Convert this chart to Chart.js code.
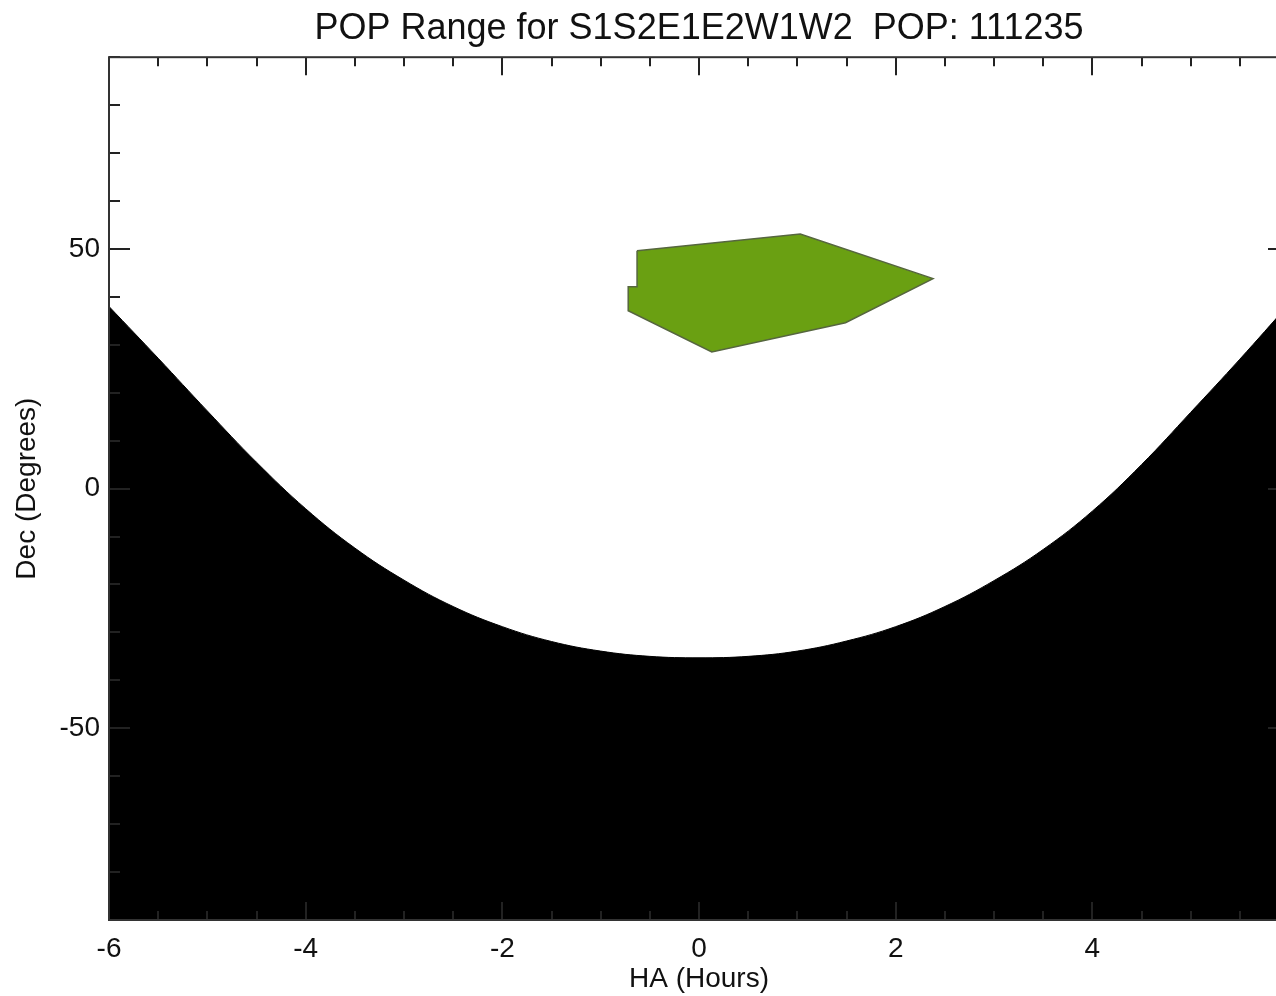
<!DOCTYPE html>
<html>
<head>
<meta charset="utf-8">
<title>POP Range</title>
<script src="https://cdn.jsdelivr.net/npm/chart.js@4.4.1/dist/chart.umd.min.js"></script>
<style>
  html, body { margin: 0; padding: 0; background: #fff; overflow: hidden; }
  #wrap { width: 1276px; height: 996px; overflow: hidden; }
</style>
</head>
<body>
<div id="wrap"><canvas id="chart" width="1290" height="996"></canvas></div>
<script>
// horizon limit (black region is below it)
const horizonHA = [-6, -5.5, -5, -4.5, -4, -3.5, -3, -2.5, -2, -1.5, -1, -0.5, 0,
  0.5, 1, 1.5, 2, 2.5, 3, 3.5, 4, 4.5, 5, 5.5, 6];
const horizonDec = [38, 27.2, 16.2, 5.5, -4.2, -12.4, -19.1, -24.6, -28.8, -31.9, -33.9, -35, -35.3,
  -35, -33.9, -31.8, -28.8, -24.6, -19.2, -12.7, -4.7, 5, 15.9, 27, 38.5];

// POP range polygon
const popHA = [-0.63, 1.03, 2.38, 1.49, 0.13, -0.72, -0.72, -0.63, -0.63];
const popDec = [49.6, 53.1, 43.8, 34.6, 28.5, 37.1, 42.1, 42.1, 49.6];

const xTickValues = [-6, -4, -2, 0, 2, 4];
const yTickValues = [-50, 0, 50];

const FONT = "'Liberation Sans', Arial, Helvetica, sans-serif";
const TEXT = '#111';

const toPoints = (xs, ys) => xs.map((x, i) => ({ x: x, y: ys[i] }));

// IDL-style frame with inward ticks on all four sides
const frameTicks = {
  id: 'frameTicks',
  afterDatasetsDraw(chart) {
    const { ctx, chartArea: a, scales: { x, y } } = chart;
    ctx.save();
    ctx.strokeStyle = '#222';
    ctx.lineWidth = 2;
    ctx.beginPath();
    for (let v = x.min; v <= x.max + 1e-9; v += 0.5) {
      const px = Math.round(x.getPixelForValue(v));
      const len = v % 2 === 0 ? 18 : 9;
      ctx.moveTo(px, a.top); ctx.lineTo(px, a.top + len);
      ctx.moveTo(px, a.bottom); ctx.lineTo(px, a.bottom - len);
    }
    for (let v = y.min; v <= y.max + 1e-9; v += 10) {
      const py = Math.round(y.getPixelForValue(v));
      const len = v % 50 === 0 ? 21 : 11;
      ctx.moveTo(a.left, py); ctx.lineTo(a.left + len, py);
      ctx.moveTo(a.right, py); ctx.lineTo(a.right - len, py);
    }
    ctx.stroke();
    ctx.strokeStyle = '#333';
    ctx.strokeRect(a.left, a.top, a.width, a.height);
    ctx.restore();
  }
};

const ctx = document.getElementById('chart').getContext('2d');
new Chart(ctx, {
  type: 'scatter',
  data: {
    datasets: [
      {
        label: 'Horizon',
        data: toPoints(horizonHA, horizonDec),
        showLine: true,
        borderColor: '#000',
        backgroundColor: '#000',
        borderWidth: 1,
        pointRadius: 0,
        tension: 0.4,
        fill: 'start',
      },
      {
        label: 'POP range',
        data: toPoints(popHA, popDec),
        showLine: true,
        borderColor: '#56663f',
        backgroundColor: '#6aa012',
        borderWidth: 1.5,
        pointRadius: 0,
        tension: 0,
        fill: 'shape',
      },
    ],
  },
  options: {
    responsive: false,
    animation: false,
    layout: { padding: { right: 1 } },
    plugins: {
      legend: { display: false },
      tooltip: { enabled: false },
      title: {
        display: true,
        text: 'POP Range for S1S2E1E2W1W2  POP: 111235',
        fullSize: false,
        color: TEXT,
        font: { family: FONT, size: 36, weight: 'normal', lineHeight: 1.2 },
        padding: { top: 7, bottom: 7 },
      },
    },
    scales: {
      x: {
        type: 'linear',
        min: -6,
        max: 6,
        afterBuildTicks: (s) => { s.ticks = xTickValues.map((v) => ({ value: v })); },
        afterFit: (s) => { s.height = 76; },
        grid: { display: false, drawTicks: false },
        border: { display: false },
        ticks: { color: TEXT, font: { family: FONT, size: 28 }, padding: 12, maxRotation: 0 },
        title: {
          display: true,
          text: 'HA (Hours)',
          color: TEXT,
          font: { family: FONT, size: 28 },
          padding: { top: 0, bottom: 0 },
        },
      },
      y: {
        type: 'linear',
        min: -90,
        max: 90,
        afterBuildTicks: (s) => { s.ticks = yTickValues.map((v) => ({ value: v })); },
        afterFit: (s) => { s.width = 109; },
        grid: { display: false, drawTicks: false },
        border: { display: false },
        ticks: { color: TEXT, font: { family: FONT, size: 28 }, padding: 9 },
        title: {
          display: true,
          text: 'Dec (Degrees)',
          color: TEXT,
          font: { family: FONT, size: 28 },
          padding: { top: 10, bottom: 0 },
        },
      },
    },
  },
  plugins: [frameTicks],
});
</script>
</body>
</html>
